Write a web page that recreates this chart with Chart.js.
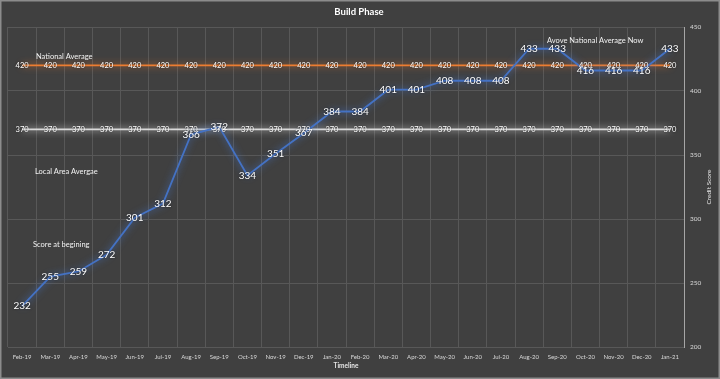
<!DOCTYPE html>
<html>
<head>
<meta charset="utf-8">
<script src="https://cdn.jsdelivr.net/npm/chart.js@4/dist/chart.umd.min.js"></script>
<style>
html,body{margin:0;padding:0;background:#404040;}
#wrap{width:720px;height:379px;position:relative;}
</style>
</head>
<body>
<div id="wrap"><canvas id="c" width="720" height="379"></canvas></div>
<script>
const categories = ["Feb-19","Mar-19","Apr-19","May-19","Jun-19","Jul-19","Aug-19","Sep-19","Oct-19","Nov-19","Dec-19","Jan-20",
  "Feb-20","Mar-20","Apr-20","May-20","Jun-20","Jul-20","Aug-20","Sep-20","Oct-20","Nov-20","Dec-20","Jan-21"];
const nationalAverage = [420,420,420,420,420,420,420,420,420,420,420,420,420,420,420,420,420,420,420,420,420,420,420,420];
const localAverage = [370,370,370,370,370,370,370,370,370,370,370,370,370,370,370,370,370,370,370,370,370,370,370,370];
const creditScore = [232,255,259,272,301,312,366,372,334,351,367,384,384,401,401,408,408,408,433,433,416,416,416,433];
const yTicks = [200,250,300,350,400,450];

const FONT = "Lato, 'Open Sans', sans-serif";
const notes = [
  {text:"National Average", x:36, y:57},
  {text:"Local Area Avergae", x:35, y:172},
  {text:"Score at begining", x:33, y:245},
  {text:"Avove National Average Now", x:547, y:41}
];

const glowPlugin = {
  id:'glow',
  beforeDatasetDraw(chart,args){
    const ds = chart.data.datasets[args.index];
    const ctx = chart.ctx;
    ctx.save();
    ctx.shadowColor = ds.glowColor;
    ctx.shadowBlur = 7;
  },
  afterDatasetDraw(chart){ chart.ctx.restore(); }
};

const labelPlugin = {
  id:'labels',
  afterDatasetsDraw(chart){
    const ctx = chart.ctx;
    chart.data.datasets.forEach((ds,i)=>{
      const meta = chart.getDatasetMeta(i);
      ctx.save();
      ctx.font = ds.labelFont;
      ctx.fillStyle = '#ffffff';
      ctx.textAlign = 'center';
      ctx.textBaseline = 'middle';
      ctx.shadowColor = 'rgba(0,0,0,0.6)';
      ctx.shadowBlur = 2;
      meta.data.forEach((pt,j)=>{
        ctx.fillText(String(ds.data[j]), pt.x, pt.y);
      });
      ctx.restore();
    });
  }
};

const decorPlugin = {
  id:'decor',
  beforeDraw(chart){
    const ctx = chart.ctx;
    ctx.save();
    ctx.fillStyle = '#404040';
    ctx.fillRect(0,0,chart.width,chart.height);
    ctx.restore();
  },
  afterDraw(chart){
    const ctx = chart.ctx;
    const a = chart.chartArea;
    ctx.save();
    ctx.fillStyle = '#ffffff';
    ctx.font = "bold 9.5px " + FONT;
    ctx.textAlign = 'center';
    ctx.textBaseline = 'middle';
    ctx.fillText("Build Phase", 359, 12);
    ctx.fillStyle = '#e6e6e6';
    ctx.font = "bold 6.5px " + FONT;
    ctx.fillText("Timeline", (a.left+a.right)/2, 366);
    ctx.save();
    ctx.translate(709, (a.top+a.bottom)/2);
    ctx.rotate(-Math.PI/2);
    ctx.font = "6.5px " + FONT;
    ctx.fillText("Credit Score", 0, 0);
    ctx.restore();
    ctx.font = "7.5px " + FONT;
    ctx.textAlign = 'left';
    ctx.fillStyle = '#f2f2f2';
    notes.forEach(n=>ctx.fillText(n.text, n.x, n.y));
    ctx.strokeStyle = '#8c8c8c';
    ctx.lineWidth = 2;
    ctx.strokeRect(0.5,0.5,chart.width-1,chart.height-1);
    ctx.restore();
  }
};

new Chart(document.getElementById('c'), {
  type:'line',
  data:{
    labels:categories,
    datasets:[
      {label:'National Average', data:nationalAverage, borderColor:'#ED7D31', glowColor:'rgba(237,125,49,0.9)', borderWidth:1.8,
       pointRadius:0, labelFont:"7.5px " + FONT, order:3},
      {label:'Local Area Average', data:localAverage, borderColor:'#D9D9D9', glowColor:'rgba(255,255,255,0.9)', borderWidth:1.8,
       pointRadius:0, labelFont:"7.5px " + FONT, order:2},
      {label:'Credit Score', data:creditScore, borderColor:'#4472C4', glowColor:'rgba(68,114,196,1)', borderWidth:1.8,
       pointRadius:0, labelFont:"10px " + FONT, order:1}
    ]
  },
  options:{
    responsive:false,
    animation:false,
    layout:{padding:{left:8, top:27, right:0, bottom:0}},
    plugins:{legend:{display:false}, tooltip:{enabled:false}, title:{display:false}},
    scales:{
      x:{
        offset:true,
        grid:{color:'#585858', offset:true, drawTicks:false, lineWidth:1},
        border:{color:'#585858'},
        ticks:{color:'#d9d9d9', font:{size:6, family:FONT}, padding:6, maxRotation:0, autoSkip:false},
        afterFit(s){ s.height = 32; }
      },
      y:{
        position:'right',
        min:200, max:450,
        afterBuildTicks(s){ s.ticks = yTicks.map(v=>({value:v})); },
        grid:{color:'#585858', drawTicks:false, lineWidth:1},
        border:{color:'#a6a6a6', width:1},
        ticks:{color:'#d9d9d9', font:{size:6.5, family:FONT}, padding:6},
        afterFit(s){ s.width = 36; }
      }
    }
  },
  plugins:[decorPlugin, glowPlugin, labelPlugin]
});
</script>
</body>
</html>
